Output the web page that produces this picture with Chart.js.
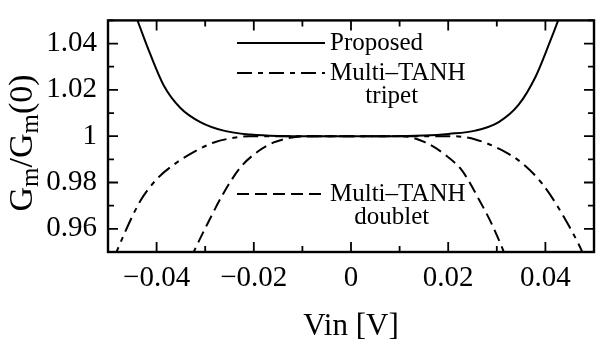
<!DOCTYPE html>
<html>
<head>
<meta charset="utf-8">
<script src="https://cdn.jsdelivr.net/npm/chart.js@4.4.1/dist/chart.umd.min.js"></script>
<style>
  body { margin: 0; background: #fff; }
</style>
</head>
<body>
<canvas id="gm" width="596" height="345"></canvas>
<script>
// values (Vin in V, Gm/Gm(0))
const proposedX = [-0.0445, -0.044, -0.0413, -0.0385, -0.0351, -0.031, -0.0262, -0.0207, -0.015, -0.008, 0, 0.008, 0.015, 0.0201, 0.0256, 0.0304, 0.0345, 0.038, 0.0407, 0.0428, 0.0433];
const proposedY = [1.053, 1.0503, 1.0354, 1.0218, 1.0122, 1.0061, 1.0024, 1.0007, 1.0001, 1.0, 1.0, 1.0, 1.0003, 1.001, 1.0024, 1.0061, 1.0136, 1.0258, 1.0395, 1.051, 1.054];

const tripetX = [-0.049, -0.0482, -0.0433, -0.0399, -0.0364, -0.0323, -0.0282, -0.0241, -0.0208, -0.012, 0, 0.012, 0.0208, 0.0256, 0.0304, 0.0352, 0.0393, 0.0428, 0.0469, 0.048];
const tripetY = [0.946, 0.9503, 0.9722, 0.9816, 0.9878, 0.9932, 0.9973, 0.9993, 1.0, 1.0, 1.0, 1.0, 1.0, 0.9986, 0.9946, 0.9884, 0.9796, 0.9687, 0.9531, 0.948];

const doubletX = [-0.033, -0.0323, -0.0296, -0.0262, -0.0228, -0.0193, -0.0159, -0.0125, -0.009, 0, 0.0105, 0.0153, 0.0195, 0.0229, 0.0263, 0.029, 0.0314, 0.032];
const doubletY = [0.947, 0.9503, 0.9619, 0.9755, 0.9864, 0.9932, 0.9973, 0.9993, 1.0, 1.0, 1.0, 0.9973, 0.9918, 0.985, 0.9728, 0.9619, 0.9503, 0.947];

const xTicks = [-0.04, -0.02, 0, 0.02, 0.04];
const xMinor = [-0.05, -0.03, -0.01, 0.01, 0.03, 0.05];
const yTicks = [0.96, 0.98, 1.0, 1.02, 1.04];
const yMinor = [0.95, 0.97, 0.99, 1.01, 1.03, 1.05];

const legendLines = [
  ['Proposed'],
  ['Multi\u2013TANH', 'tripet'],
  ['Multi\u2013TANH', 'doublet']
];

const serif = "'Liberation Serif', serif";

function pts(xs, ys) {
  return xs.map((x, i) => ({ x: x, y: ys[i] }));
}

function minus(v) {
  const s = String(+v.toFixed(2));
  return s.replace('-', '\u2212');
}

// box, inward ticks on all four sides, legend and the y title
const frame = {
  id: 'frame',
  afterDraw(chart) {
    const ctx = chart.ctx;
    const a = chart.chartArea;
    const xs = chart.scales.x, ys = chart.scales.y;
    ctx.save();
    ctx.strokeStyle = '#000';
    ctx.lineWidth = 1.8;
    ctx.beginPath();
    const tick = (vals, len) => {
      vals.forEach(v => {
        const px = xs.getPixelForValue(v);
        ctx.moveTo(px, a.bottom); ctx.lineTo(px, a.bottom - len);
        ctx.moveTo(px, a.top); ctx.lineTo(px, a.top + len);
      });
    };
    const tickY = (vals, len) => {
      vals.forEach(v => {
        const py = ys.getPixelForValue(v);
        ctx.moveTo(a.left, py); ctx.lineTo(a.left + len, py);
        ctx.moveTo(a.right, py); ctx.lineTo(a.right - len, py);
      });
    };
    tick(xTicks, 10); tick(xMinor, 6);
    tickY(yTicks, 10); tickY(yMinor, 6);
    ctx.stroke();

    ctx.lineWidth = 2.4;
    ctx.strokeRect(a.left, a.top, a.right - a.left, a.bottom - a.top);

    // legend
    const rowsY = [43, 73, 194];
    ctx.font = '25px ' + serif;
    ctx.fillStyle = '#000';
    ctx.textBaseline = 'middle';
    chart.data.datasets.forEach((ds, i) => {
      const y = rowsY[i];
      ctx.lineWidth = 2;
      ctx.setLineDash(ds.borderDash || []);
      ctx.beginPath();
      ctx.moveTo(237, y); ctx.lineTo(325, y);
      ctx.stroke();
      ctx.setLineDash([]);
      const lines = legendLines[i];
      ctx.textAlign = 'left';
      ctx.fillText(lines[0], 330, y);
      if (lines[1]) {
        const w = ctx.measureText(lines[0]).width;
        ctx.textAlign = 'center';
        ctx.fillText(lines[1], 330 + w / 2 - 6, y + 23);
      }
    });

    // y axis title with subscripts
    const parts = [['G', 0], ['m', 1], ['/G', 0], ['m', 1], ['(0)', 0]];
    const big = '34px ' + serif, small = '25px ' + serif;
    let total = 0;
    parts.forEach(p => { ctx.font = p[1] ? small : big; total += ctx.measureText(p[0]).width; });
    ctx.translate(32, 143);
    ctx.rotate(-Math.PI / 2);
    ctx.textAlign = 'left';
    ctx.textBaseline = 'alphabetic';
    let cx = -total / 2;
    parts.forEach(p => {
      ctx.font = p[1] ? small : big;
      ctx.fillText(p[0], cx, p[1] ? 6 : 0);
      cx += ctx.measureText(p[0]).width;
    });
    ctx.restore();
  }
};

new Chart(document.getElementById('gm'), {
  type: 'line',
  data: {
    datasets: [
      { label: 'Proposed', data: pts(proposedX, proposedY), borderDash: [] },
      { label: 'Multi-TANH tripet', data: pts(tripetX, tripetY), borderDash: [15, 6, 5, 6] },
      { label: 'Multi-TANH doublet', data: pts(doubletX, doubletY), borderDash: [12, 6] }
    ]
  },
  options: {
    responsive: false,
    animation: false,
    layout: { padding: { top: 7, right: 2, left: 0, bottom: 0 } },
    elements: {
      point: { radius: 0 },
      line: { borderColor: '#000', borderWidth: 2, cubicInterpolationMode: 'monotone', fill: false }
    },
    plugins: { legend: { display: false }, tooltip: { enabled: false } },
    scales: {
      x: {
        type: 'linear',
        min: -0.05, max: 0.05,
        afterBuildTicks: s => { s.ticks = xTicks.map(v => ({ value: v })); },
        afterFit: s => { s.height = 93; },
        grid: { display: false },
        border: { display: false },
        ticks: {
          color: '#000', font: { family: serif, size: 29 }, padding: 1, maxRotation: 0,
          callback: v => minus(v)
        },
        title: { display: true, text: 'Vin [V]', color: '#000', font: { family: serif, size: 31 }, padding: { top: 0, bottom: 0 } }
      },
      y: {
        min: 0.95, max: 1.05,
        afterBuildTicks: s => { s.ticks = yTicks.map(v => ({ value: v })); },
        afterFit: s => { s.width = 108; },
        grid: { display: false },
        border: { display: false },
        ticks: {
          color: '#000', font: { family: serif, size: 29 }, padding: 3,
          callback: v => minus(v)
        }
      }
    }
  },
  plugins: [frame]
});
</script>
</body>
</html>
